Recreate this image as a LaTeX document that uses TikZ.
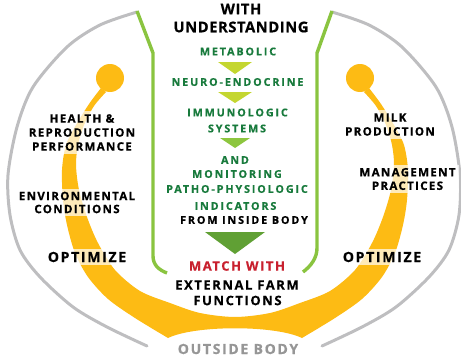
\documentclass[tikz,border=0pt]{standalone}
\usepackage{fontspec}
\setmainfont{Open Sans}
\newfontfamily\headfont{Open Sans}[LetterSpace=4, BoldFeatures={FakeBold=0.6}]
\newfontfamily\midfont{Open Sans}[LetterSpace=12, BoldFeatures={FakeBold=0.6}]
\newfontfamily\sidefont{Open Sans}[LetterSpace=11, BoldFeatures={FakeBold=0.6}]
\newfontfamily\capsfont{Open Sans}[LetterSpace=17, BoldFeatures={FakeBold=0.6}]
\usepackage{xcolor}
\usetikzlibrary{positioning}

\definecolor{sunyellow}{RGB}{253,187,20}
\definecolor{limegreen}{RGB}{138,196,64}
\definecolor{leafgreen}{RGB}{24,122,60}
\definecolor{farmred}{RGB}{200,32,46}
\definecolor{rimgray}{RGB}{190,190,192}
\definecolor{bodygray}{RGB}{150,150,150}
\definecolor{triA}{RGB}{196,214,48}
\definecolor{triB}{RGB}{141,198,63}
\definecolor{triC}{RGB}{96,160,52}

\begin{document}
\begin{tikzpicture}[
		x=1pt, y=-1pt,
		% Style definitions
		rim/.style={draw=rimgray, line width=3pt, line cap=round},
		stem/.style={draw=limegreen, line width=3.4pt},
		head/.style={font=\headfont\bfseries\fontsize{14.7}{18}\selectfont, inner sep=0pt},
		sys/.style={font=\capsfont\bfseries\fontsize{10.8}{12}\selectfont, text=leafgreen, inner sep=0pt},
		ext/.style={font=\midfont\bfseries\fontsize{13}{15}\selectfont, inner sep=0pt},
		side/.style={font=\sidefont\bfseries\fontsize{11.6}{14}\selectfont, align=center, inner sep=3pt,
			fill=white, fill opacity=0.7, text opacity=1},
		opt/.style={font=\midfont\bfseries\fontsize{14}{16}\selectfont, inner sep=3pt,
			fill=white, fill opacity=0.7, text opacity=1},
		]
		\useasboundingbox (0,0) rectangle (461,356);

		% === Outer rim (outside body) ===
		\draw[rim] plot[smooth] coordinates {(137,12) (100,25) (67,47) (33,87) (17,127) (8,175) (10,215) (20,250) (40,277) (73,307) (107,327) (147,346)};
		\draw[rim] plot[smooth] coordinates {(332,12) (369,25) (402,47) (436,87) (452,127) (460,175) (459,215) (449,250) (429,277) (396,307) (362,327) (322,346)};

		% === Yellow band with its two knobs ===
		\fill[sunyellow]
			plot[smooth] coordinates {(101,88) (89,104) (76,125) (66,145) (62,170) (63,200) (67,225) (75,253) (88,277) (108,299) (135,318) (168,338)}
			.. controls (195,325) and (275,325) .. (302,338)
			-- plot[smooth] coordinates {(302,338) (335,318) (362,299) (382,277) (395,253) (403,225) (407,200) (408,170) (404,145) (394,125) (381,104) (369,88)}
			-- plot[smooth] coordinates {(364,92) (376,106) (386,125) (392,145) (394,165) (391,190) (383,217) (372,243) (355,270) (330,291) (300,303) (270,313) (235,317) (200,313) (170,303) (140,291) (115,270) (98,243) (87,217) (79,190) (76,165) (78,145) (84,125) (94,106) (106,92)}
			-- cycle;
		\fill[sunyellow] (110,78) circle[radius=14pt];
		\fill[sunyellow] (360,78) circle[radius=14pt];

		% === Green frame (inside body) ===
		\draw[stem] (137,11) -- (153,53) -- (153,256) .. controls (153,265) and (159,270) .. (167,273);
		\draw[stem] (332,11) -- (317,53) -- (317,248) .. controls (317,258) and (311,266) .. (303,272);

		% === Down arrows between the systems ===
		\fill[triA] (218,62) -- (252,62) -- (235,74) -- cycle;
		\fill[triA] (218,92) -- (252,92) -- (235,103) -- cycle;
		\fill[triB] (220,138) -- (250,138) -- (235,148) -- cycle;
		\fill[triC] (205,232) -- (265,232) -- (235,254) -- cycle;

		% === Centre column ===
		\node[head] (with) at (241,9) {WITH};
		\node[head] (underst) at (241,27) {UNDERSTANDING};
		\node[sys] (metab) at (238,51.5) {METABOLIC};
		\node[sys] (neuro) at (237.5,82) {NEURO-ENDOCRINE};
		\node[sys] (immuno) at (237.5,112.5) {IMMUNOLOGIC};
		\node[sys] (systems) at (237,128.5) {SYSTEMS};
		\node[sys] (and) at (235,160) {AND};
		\node[sys] (monit) at (237,174) {MONITORING};
		\node[sys] (patho) at (237,189) {PATHO-PHYSIOLOGIC};
		\node[sys] (indic) at (235.5,206) {INDICATORS};
		\node[sys, text=black] (inside) at (244,220) {FROM INSIDE BODY};
		\node[ext, text=farmred] (match) at (237,266) {MATCH WITH};
		\node[ext] (external) at (237,285) {EXTERNAL FARM};
		\node[ext] (functions) at (237.5,300.5) {FUNCTIONS};
		\node[opt, fill=none, inner sep=0pt, text=bodygray] (outside) at (238,349) {OUTSIDE BODY};

		% === Side labels ===
		\node[side] (health) at (82,132.5) {HEALTH \&\\REPRODUCTION\\PERFORMANCE};
		\node[side, font=\sidefont\bfseries\fontsize{11.6}{13}\selectfont] (environ) at (77,202.5) {ENVIRONMENTAL\\CONDITIONS};
		\node[opt] (optleft) at (87,257) {OPTIMIZE};
		\node[side] (milk) at (390,124.5) {MILK\\PRODUCTION};
		\node[side, font=\sidefont\bfseries\fontsize{11.6}{13.5}\selectfont] (manage) at (407.5,179) {MANAGEMENT\\PRACTICES};
		\node[opt] (optright) at (382,257) {OPTIMIZE};

	\end{tikzpicture}
\end{document}
